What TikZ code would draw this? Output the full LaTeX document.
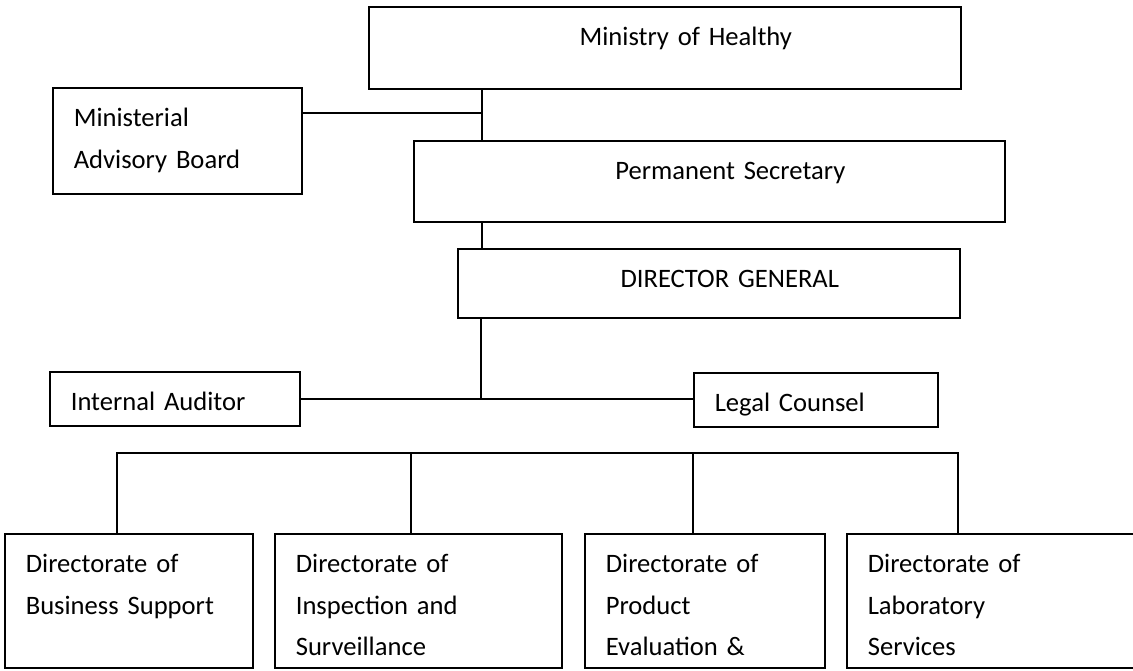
\documentclass[tikz,border=0pt]{standalone}
\usepackage{fontspec}
\setmainfont{Carlito}
\tikzset{
  unit/.style={draw, line width=1.6pt, anchor=north west, inner xsep=21pt, inner ysep=0pt,
    text height=38.5pt, text depth=#1, align=left,
    font=\fontsize{26.6}{41.7}\selectfont},
  topunit/.style={unit=#1, align=center},
}
\begin{document}
\begin{tikzpicture}[x=1pt,y=-1pt]
  \useasboundingbox (0,0) rectangle (1133,670);
  \node[topunit=43.5pt, text width=550pt] (ministry) at (368,6) {\hspace*{42pt}Ministry of Healthy};
  \node[unit=67.5pt, text width=207pt] (board) at (52,87) {Ministerial\\Advisory Board};
  \node[topunit=42.5pt, text width=549pt] (secretary) at (413,140) {\hspace*{42pt}Permanent Secretary};
  \node[topunit=30.5pt, text width=460pt] (dg) at (457,248) {\hspace*{42pt}DIRECTOR GENERAL};
  \node[unit=15.5pt, text width=208pt] (auditor) at (49,371) {Internal Auditor};
  \node[unit=15.5pt, text width=202pt] (counsel) at (693,372) {Legal Counsel};
  \node[unit=95.5pt, text width=206pt] (business) at (4,533) {Directorate of\\Business Support};
  \node[unit=95.5pt, text width=245pt] (inspection) at (274,533) {Directorate of\\Inspection and\\Surveillance};
  \node[unit=95.5pt, text width=198pt] (product) at (584,533) {Directorate of\\Product\\Evaluation \&};
  \node[unit=95.5pt, text width=262pt] (laboratory) at (846,533) {Directorate of\\Laboratory\\Services};
  \coordinate (j1) at (482,113);
  \coordinate (j2) at (481,399);
  \coordinate (b1) at (117,453);
  \coordinate (b2) at (411,453);
  \coordinate (b3) at (693,453);
  \coordinate (b4) at (958,453);
  \begin{scope}[line width=1.6pt]
    \draw (ministry.south -| j1) to (secretary.north -| j1);
    \draw (board.east |- j1) to (j1);
    \draw (secretary.south -| j1) to (dg.north -| j1);
    \draw (dg.south -| j2) to (j2);
    \draw (auditor.east |- j2) to (j2) to (counsel.west |- j2);
    \draw (business.north -| b1) to (b1) to (b4) to (laboratory.north -| b4);
    \draw (b2) to (inspection.north -| b2);
    \draw (b3) to (product.north -| b3);
  \end{scope}
\end{tikzpicture}
\end{document}
